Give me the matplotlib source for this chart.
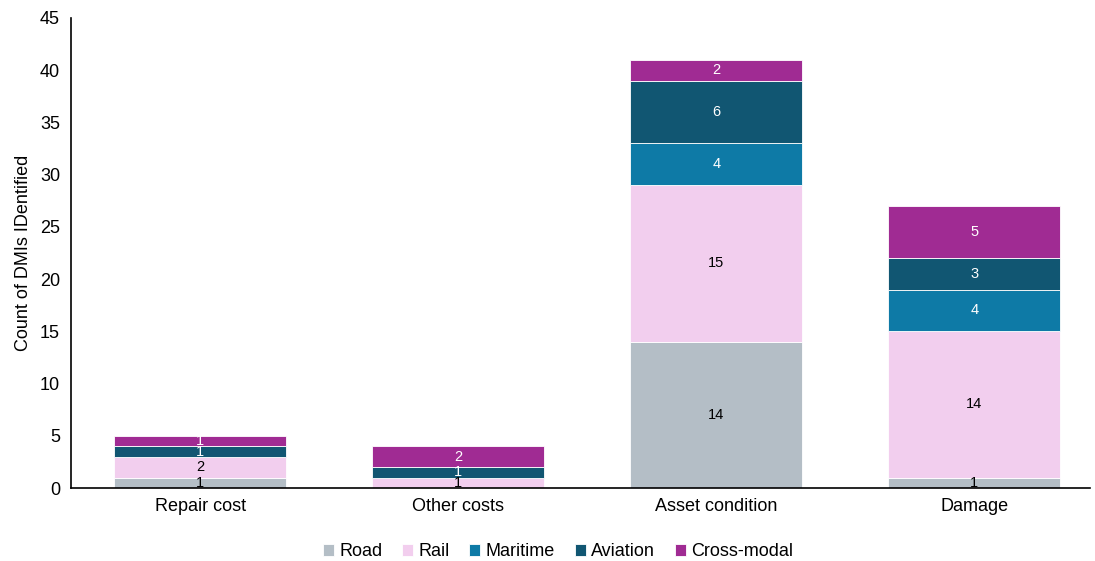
import numpy as np
import matplotlib.pyplot as plt

plt.rcParams['font.family'] = ['Liberation Sans', 'DejaVu Sans']

# dados
categorias = ["Repair cost", "Other costs", "Asset condition", "Damage"]
modos = ["Road", "Rail", "Maritime", "Aviation", "Cross-modal"]
road = [1, 0, 14, 1]
rail = [2, 1, 15, 14]
maritime = [0, 0, 4, 4]
aviation = [1, 1, 6, 3]
cross_modal = [1, 2, 2, 5]

series = [road, rail, maritime, aviation, cross_modal]
cores = ["#B4BEC6", "#F2CEEE", "#0E7AA6", "#115672", "#A02B93"]
cor_texto = ["black", "black", "white", "white", "white"]

fig = plt.figure(figsize=(10.95, 5.61), dpi=100)
ax = fig.add_axes([0.065, 0.130, 0.93, 0.838])

x = np.arange(len(categorias))
base = np.zeros(len(categorias))
for nome, vals, cor, ct in zip(modos, series, cores, cor_texto):
    vals = np.array(vals, dtype=float)
    ax.bar(x, vals, 0.667, bottom=base, color=cor, label=nome,
           edgecolor="white", linewidth=0.6)
    for xi, b, v in zip(x, base, vals):
        if v > 0:
            ax.text(xi, b + v / 2, f"{v:.0f}", ha="center", va="center",
                    fontsize=10.5, color=ct)
    base += vals

ax.set_xlim(-0.5, 3.446)
ax.set_ylim(0, 45)
ax.set_yticks(range(0, 46, 5))
ax.set_xticks(x)
ax.set_xticklabels(categorias, fontsize=13)
ax.tick_params(axis="y", labelsize=13, length=0, pad=8)
ax.tick_params(axis="x", length=0, pad=7)
ax.set_ylabel("Count of DMIs IDentified", fontsize=13, labelpad=6)
for s in ["top", "right"]:
    ax.spines[s].set_visible(False)
ax.spines["left"].set_linewidth(1.2)
ax.spines["bottom"].set_linewidth(1.2)

ax.legend(loc="upper center", bbox_to_anchor=(0.478, -0.083), ncol=5,
          frameon=False, fontsize=13, handlelength=0.6, handleheight=0.6,
          handletextpad=0.3, columnspacing=1.1)

fig.savefig("out.png", dpi=100)
